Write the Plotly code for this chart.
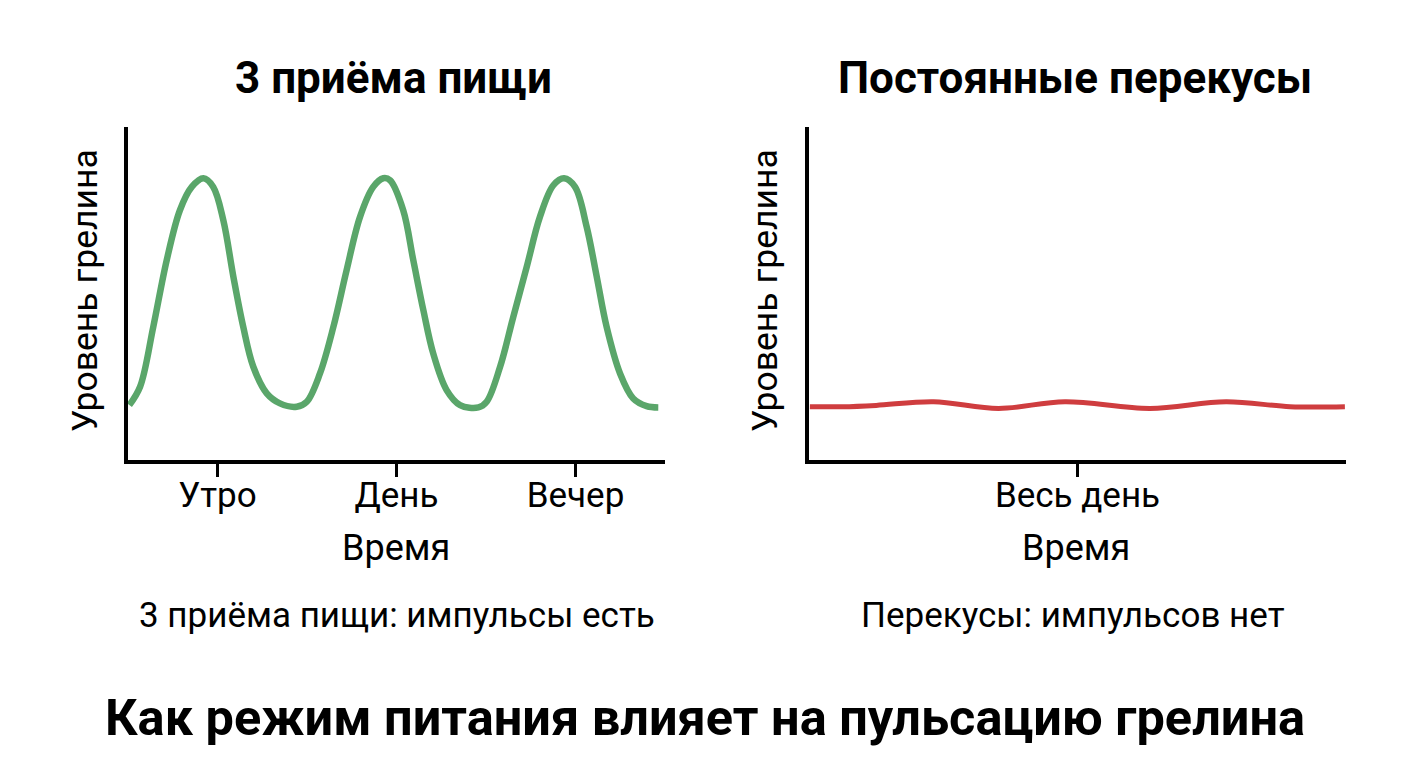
import plotly.graph_objects as go

# time of day (0..24) and ghrelin level (0..100)
meals_time = [0.06, 0.54, 1.13, 1.73, 2.32, 2.85, 3.37, 3.81, 4.26, 4.71, 5.15, 5.6, 6.2, 6.79,
              7.54, 7.99, 8.58, 9.18, 9.77, 10.37, 10.96, 11.41, 11.71, 12.3, 12.75, 13.2, 13.64,
              14.24, 14.84, 15.66, 16.03, 16.63, 17.22, 17.82, 18.41, 19.01, 19.49, 19.98, 20.5,
              20.95, 21.39, 21.99, 22.58, 23.18, 23.7]
meals_level = [16.5, 22, 40, 60, 75, 82, 84.6, 82, 72, 55, 40, 28, 20, 17,
               16, 17.5, 26, 40, 57, 73, 82, 84.6, 84, 75, 60, 45, 32,
               21, 16.5, 15.8, 17.5, 28, 43, 58, 73, 82.5, 84.6, 82, 70,
               55, 40, 26, 18.5, 16.2, 15.8]

snack_time = [0.04, 1.5, 3.0, 5.57, 8.47, 11.44, 15.24, 18.64, 21.5, 23.95]
snack_level = [16, 16, 16.4, 17.5, 15.5, 17.5, 15.5, 17.5, 16, 16]

meal_ticks = [4, 12, 20]
meal_labels = ["Утро", "День", "Вечер"]
snack_ticks = [12]
snack_labels = ["Весь день"]

FONT = "Roboto"
W, H = 1400, 760   # page body has an 8px margin
OFF = 8


def px_x(x):
    return (x - OFF) / W


def px_y(y):
    return 1 - (y - OFF) / H


fig = go.Figure()
fig.add_trace(go.Scatter(x=meals_time, y=meals_level, mode="lines",
                         line=dict(color="#5aa66a", width=6.5, shape="spline", smoothing=1.0),
                         xaxis="x", yaxis="y", hoverinfo="skip"))
fig.add_trace(go.Scatter(x=snack_time, y=snack_level, mode="lines",
                         line=dict(color="#cf3d3f", width=5, shape="spline", smoothing=1.0),
                         xaxis="x2", yaxis="y2", hoverinfo="skip"))

ax = dict(showgrid=False, zeroline=False, showline=True, linecolor="black", linewidth=3.5,
          ticks="outside", ticklen=13, tickwidth=3, tickcolor="black", ticklabelstandoff=-12,
          tickfont=dict(family=FONT, size=35, color="black"), range=[0, 24], fixedrange=True)
ay = dict(showgrid=False, zeroline=False, showline=True, linecolor="black", linewidth=3.5,
          showticklabels=False, ticks="", range=[0, 100], fixedrange=True)

ydom = [px_y(460), px_y(127)]
fig.update_layout(
    width=W, height=H,
    margin=dict(l=0, r=0, t=0, b=0),
    paper_bgcolor="white", plot_bgcolor="white",
    showlegend=False,
    xaxis=dict(ax, domain=[px_x(128), px_x(665)], anchor="y",
               tickvals=meal_ticks, ticktext=meal_labels),
    yaxis=dict(ay, domain=ydom, anchor="x"),
    xaxis2=dict(ax, domain=[px_x(809), px_x(1346)], anchor="y2",
                tickvals=snack_ticks, ticktext=snack_labels),
    yaxis2=dict(ay, domain=ydom, anchor="x2"),
)


def note(text, x, y, size, bold=False, angle=0):
    fig.add_annotation(text=text, x=px_x(x), y=px_y(y), xref="paper", yref="paper",
                       showarrow=False, textangle=angle, xanchor="center", yanchor="middle",
                       font=dict(family=FONT, size=size, color="black",
                                 weight=700 if bold else 400))


note("3 приёма пищи", 393, 78, 44, bold=True)
note("Постоянные перекусы", 1075, 78, 44, bold=True)
note("Уровень грелина", 85, 291, 35.5, angle=-90)
note("Уровень грелина", 765, 291, 35.5, angle=-90)
note("Время", 396, 548, 36)
note("Время", 1076, 548, 36)
note("3 приёма пищи: импульсы есть", 397, 615, 35)
note("Перекусы: импульсов нет", 1073, 615, 35)
note("Как режим питания влияет на пульсацию грелина", 705, 717, 50.5, bold=True)

fig.write_html("out.html")
